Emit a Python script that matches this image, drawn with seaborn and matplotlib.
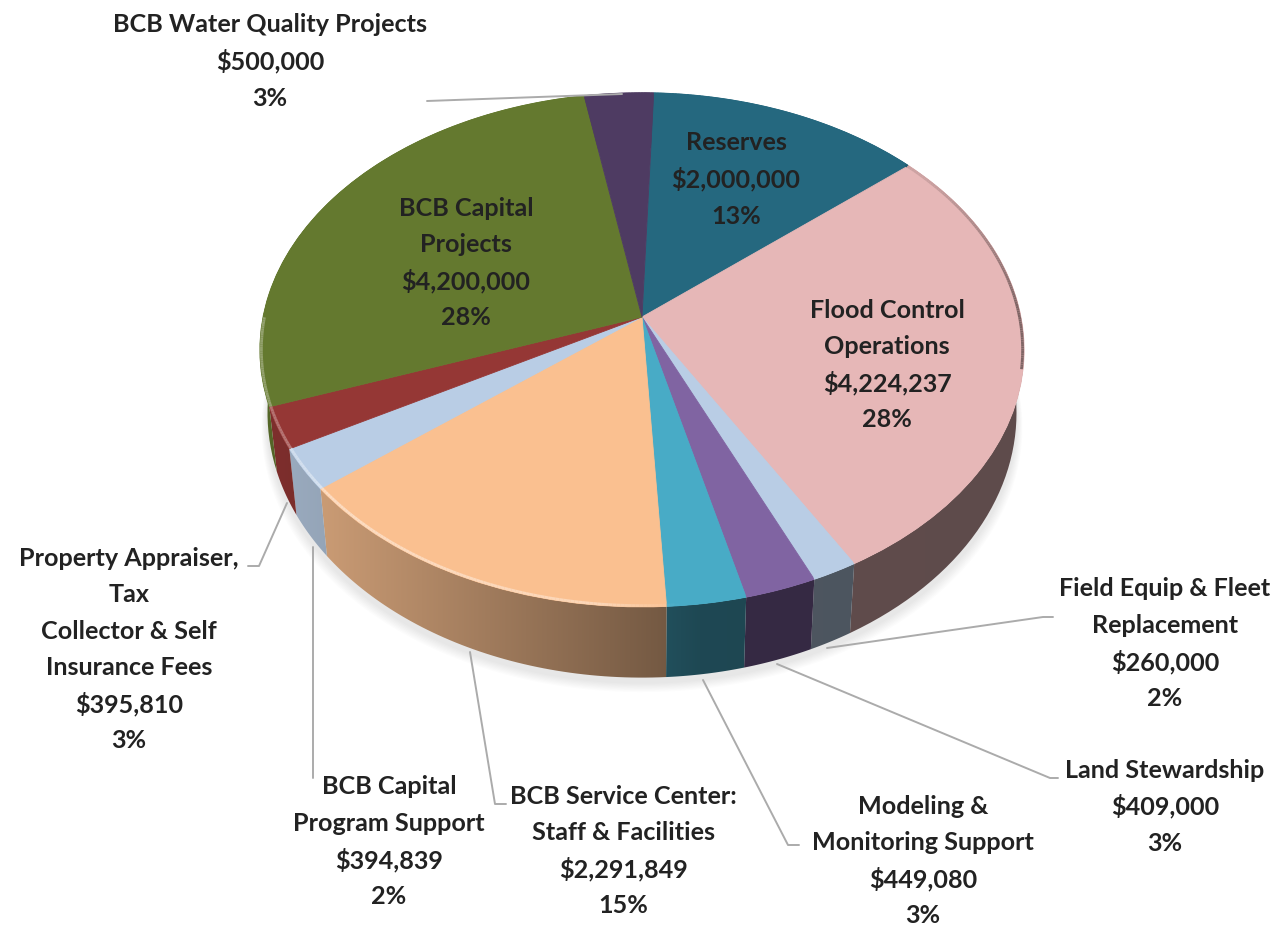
import numpy as np
import matplotlib
matplotlib.use('Agg')
import matplotlib.pyplot as plt
import seaborn as sns
from matplotlib.collections import LineCollection
from matplotlib.colors import to_rgb
from matplotlib.patches import Polygon
from matplotlib.transforms import Transform

# data, clockwise from the top of the pie
names = ['Reserves', 'Flood Control\nOperations', 'Field Equip & Fleet\nReplacement',
         'Land Stewardship', 'Modeling &\nMonitoring Support',
         'BCB Service Center:\nStaff & Facilities', 'BCB Capital\nProgram Support',
         'Property Appraiser,\nTax\nCollector & Self\nInsurance Fees',
         'BCB Capital\nProjects', 'BCB Water Quality Projects']
values = [2000000, 4224237, 260000, 409000, 449080, 2291849, 394839, 395810, 4200000, 500000]
percents = [13, 28, 2, 3, 3, 15, 2, 3, 28, 3]
colors = ['#25687F', '#E6B7B7', '#B9CDE5', '#8064A2', '#48ABC6',
          '#FAC090', '#B9CDE5', '#953735', '#64792F', '#4E3B62']

# label layout: centre x and y of the first line
label_x = [736, 887, 1165, 1165, 923, 623, 389, 129, 466, 270]
label_y = [143, 310, 589, 770, 806, 796, 787, 558, 208, 25]
line_step = 36.6

# leader lines
leaders = [[(427, 101), (622, 94)],
           [(248, 566), (259, 566), (287, 503)],
           [(313, 778), (313, 547)],
           [(470, 652), (495, 804), (506, 804)],
           [(703, 680), (788, 845), (799, 845)],
           [(777, 664), (1050, 778), (1058, 778)],
           [(827, 648), (1043, 617), (1053, 617)]]

W, H = 1278, 926
cx, cy = 642, 317
scale_x, scale_y, tilt = 379, 252.8, 0.128


def project(xy):
    xy = np.asarray(xy, dtype=float)
    d = 1 + tilt * xy[:, 1]
    return np.column_stack([cx + scale_x * xy[:, 0] / d, cy - scale_y * xy[:, 1] / d])


def lower(pts):
    # same outline at the bottom of the disc
    return np.column_stack([cx + 0.98 * (pts[:, 0] - cx), cy + 1.03 * (pts[:, 1] - cy) + 62])


class Perspective(Transform):
    input_dims = 2
    output_dims = 2
    is_affine = False

    def transform_non_affine(self, values):
        return project(values)


def arc(t1, t2, n=60, r=1.0):
    t = np.radians(np.linspace(t1, t2, n))
    return project(np.column_stack([r * np.cos(t), r * np.sin(t)]))


sns.set_theme(style='white')
plt.rcParams['font.family'] = ['Lato', 'DejaVu Sans']

fig = plt.figure(figsize=(W / 100, H / 100), dpi=100)
ax = fig.add_axes([0, 0, 1, 1])

wedges, _ = ax.pie(values, colors=colors, startangle=88, counterclock=False, radius=1,
                   wedgeprops=dict(linewidth=0.6))
ax.set_aspect('auto')
persp = Perspective() + ax.transData
for w, c in zip(wedges, colors):
    w.set_transform(persp)
    w.set_edgecolor(c)
    w.set_zorder(2)

# soft shadow under the disc
outline = lower(arc(0, 360, 200))
for i in range(1, 9):
    grown = np.column_stack([cx + (1 + i * 0.002) * (outline[:, 0] - cx),
                             cy + 5 + i * 1.2 + (outline[:, 1] - cy)])
    ax.fill(grown[:, 0], grown[:, 1], color='black', alpha=0.012, lw=0, zorder=0.5)

# side of each slice, shaded from left to right
xs = np.arange(W)
shade = np.interp(xs, [260, 330, 660, 700, 1023], [0.85, 0.80, 0.47, 0.42, 0.41])
for w, c in zip(wedges, colors):
    top = arc(w.theta1, w.theta2)
    strip = np.vstack([top, lower(top)[::-1]])
    grad = np.array(to_rgb(c))[None, :] * shade[:, None]
    im = ax.imshow(grad[None, :, :], extent=(0, W, H, 0), aspect='auto', zorder=1,
                   interpolation='bilinear')
    im.set_clip_path(Polygon(strip, closed=True, transform=ax.transData))

# rim of the top face: highlight on the front left, dark on the right
segs, seg_colors = [], []
for w, c in zip(wedges, colors):
    base = np.array(to_rgb(c))
    n = max(int(w.theta2 - w.theta1) * 2, 4)
    pts = arc(w.theta1, w.theta2, n, r=0.996)
    mids = np.radians(np.linspace(w.theta1, w.theta2, n - 1))
    for i in range(n - 1):
        x = (pts[i, 0] + pts[i + 1, 0]) / 2
        s = np.sin(mids[i])
        if s < 0 and x < 680:
            h = np.interp(x, [280, 330, 600, 680], [0.3, 0.45, 0.35, 0])
            col = base + (1 - base) * h
        elif x > 905 and s > -0.2:
            # fades in going down the right edge, then meets the dark side
            col = base * (1 - 0.45 * np.interp(s, [0.05, 0.6], [1, 0.25]))
        else:
            col = base
        segs.append(pts[i:i + 2])
        seg_colors.append(col)
ax.add_collection(LineCollection(segs, colors=seg_colors, linewidths=2.0, zorder=3))

for line in leaders:
    line = np.array(line)
    ax.plot(line[:, 0], line[:, 1], color='#ABABAB', lw=1.4, zorder=4,
            solid_joinstyle='round')

for name, val, pct, x, y in zip(names, values, percents, label_x, label_y):
    rows = name.split('\n') + [f'${val:,}', f'{pct}%']
    for i, row in enumerate(rows):
        ax.text(x, y + i * line_step, row, ha='center', va='center', fontsize=18.1,
                fontweight='bold', color='#222222', zorder=5)

ax.set_xlim(0, W)
ax.set_ylim(H, 0)
ax.axis('off')
fig.savefig('out.png', dpi=100, facecolor='white')
